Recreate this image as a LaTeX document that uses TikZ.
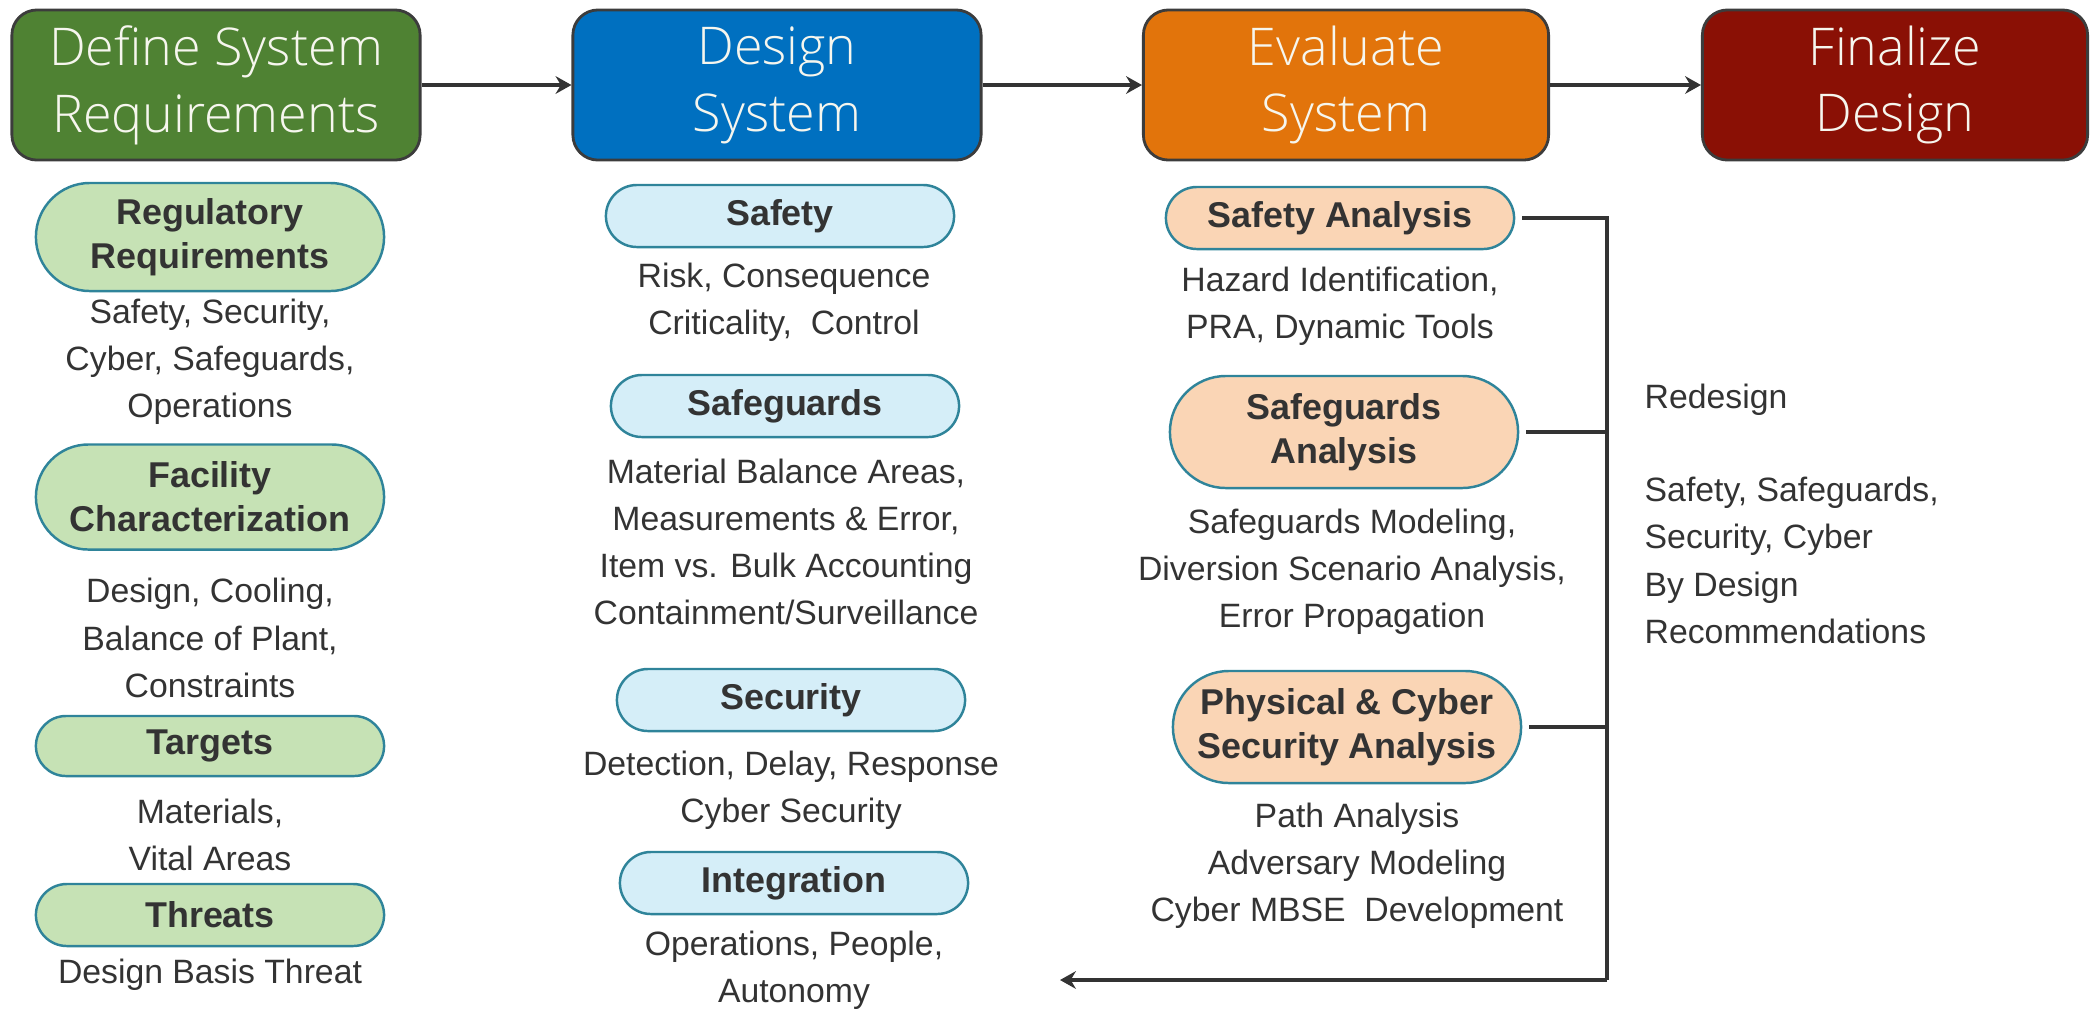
\documentclass[tikz,border=0pt]{standalone}
\usepackage{fontspec}
\setmainfont{Liberation Sans}
\newfontfamily\headfont{Open Sans Light}
\usepackage{xcolor}
\usetikzlibrary{positioning, arrows.meta, shapes.misc}

\definecolor{defgreen}{HTML}{4F8233}
\definecolor{desblue}{HTML}{0070C0}
\definecolor{evalorange}{HTML}{E2740B}
\definecolor{finred}{HTML}{8A1005}
\definecolor{pillgreen}{HTML}{C6E2B5}
\definecolor{pillblue}{HTML}{D5EEF8}
\definecolor{pillorange}{HTML}{FAD5B5}
\definecolor{pilledge}{HTML}{2F849A}
\definecolor{headedge}{HTML}{3C3C3C}
\definecolor{ink}{HTML}{333333}
\definecolor{headtext}{HTML}{F6F6EE}

\begin{document}
\begin{tikzpicture}[x=0.01cm, y=-0.01cm, >=Stealth,
    phase/.style={draw=headedge, line width=0.8pt, rounded corners=0.25cm,
      minimum width=4.08cm, minimum height=1.5cm, align=center, text=headtext,
      font=\headfont\fontsize{14.8}{19}\selectfont},
    pill/.style={rounded rectangle, draw=pilledge, line width=0.7pt,
      minimum width=3.55cm, minimum height=0.62cm, inner sep=1pt, align=center,
      text=ink, font=\bfseries\fontsize{10.2}{12.5}\selectfont},
    note/.style={align=center, text=ink, inner sep=0pt,
      font=\fontsize{9.6}{13.4}\selectfont},
    flow/.style={-{Stealth[length=4.5pt, width=5pt]}, draw=ink, line width=1.1pt},
    link/.style={draw=ink, line width=1.4pt, shorten <=2pt},
  ]
        \useasboundingbox (0, 0) rectangle (2090, 1014);

        % Phases
        \node[phase, fill=defgreen]   (def) at (216, 85)  {Define System\\Requirements};
        \node[phase, fill=desblue]    (des) at (777, 85)  {Design\\System};
        \node[phase, fill=evalorange, minimum width=4.05cm]
              (eva) at (1346, 85) {Evaluate\\System};
        \node[phase, fill=finred, minimum width=3.85cm]
              (fin) at (1895, 85) {Finalize\\Design};

        \draw[flow] (def) -- (des);
        \draw[flow] (des) -- (eva);
        \draw[flow] (eva) -- (fin);

        % Requirements
        \node[pill, fill=pillgreen, minimum height=1.08cm]
              (reg)    at (210, 237) {Regulatory\\Requirements};
        \node[note] (regtxt) at (210, 362) {Safety, Security,\\Cyber, Safeguards,\\Operations};
        \node[pill, fill=pillgreen, minimum height=1.05cm]
              (fac)    at (210, 497) {Facility\\Characterization};
        \node[note] (factxt) at (210, 638) {Design, Cooling,\\Balance of Plant,\\Constraints};
        \node[pill, fill=pillgreen, minimum height=0.6cm]
              (tar)    at (210, 746) {Targets};
        \node[note] (tartxt) at (210, 835) {Materials,\\Vital Areas};
        \node[pill, fill=pillgreen]
              (thr)    at (210, 915) {Threats};
        \node[note] (thrtxt) at (210, 975) {Design Basis Threat};

        % Design
        \node[pill, fill=pillblue] (saf)    at (780, 216) {Safety};
        \node[note]                (saftxt) at (784, 302) {Risk, Consequence\\Criticality,\ \ Control};
        \node[pill, fill=pillblue] (sfg)    at (785, 406) {Safeguards};
        \node[note]                (sfgtxt) at (786, 542) {Material Balance Areas,\\Measurements \& Error,\\Item vs. Bulk Accounting\\Containment/Surveillance};
        \node[pill, fill=pillblue] (sec)    at (791, 700) {Security};
        \node[note]                (sectxt) at (791, 790) {Detection, Delay, Response\\Cyber Security};
        \node[pill, fill=pillblue] (int)    at (794, 883) {Integration};
        \node[note]                (inttxt) at (794, 970) {Operations, People,\\Autonomy};

        % Evaluation
        \node[pill, fill=pillorange] (sa)     at (1340, 218) {Safety Analysis};
        \node[note]                  (satxt)  at (1340, 306) {Hazard Identification,\\PRA, Dynamic Tools};
        \node[pill, fill=pillorange, minimum height=1.12cm]
              (sga)    at (1344, 432) {Safeguards\\Analysis};
        \node[note]                  (sgatxt) at (1352, 572) {Safeguards Modeling,\\Diversion Scenario Analysis,\\Error Propagation};
        \node[pill, fill=pillorange, minimum height=1.12cm]
              (pcs)    at (1347, 727) {Physical \& Cyber\\Security Analysis};
        \node[note]                  (pcstxt) at (1357, 866) {Path Analysis\\Adversary Modeling\\Cyber MBSE\ \ Development};

        \node[note, align=left, anchor=west]
              (redo) at (1644, 514) {Redesign\\[13pt]Safety, Safeguards,\\Security, Cyber\\By Design\\Recommendations};

        % Redesign loop
        \coordinate (bend) at (1607, 980);
        \coordinate (back) at (1060, 980);
        \draw[link] (sa.east) -| (bend);
        \draw[link] (sga.east) -- (sga.east -| bend);
        \draw[link] (pcs.east) -- (pcs.east -| bend);
        \draw[flow, line width=1.4pt] (bend) -- (back);
    \end{tikzpicture}
\end{document}
